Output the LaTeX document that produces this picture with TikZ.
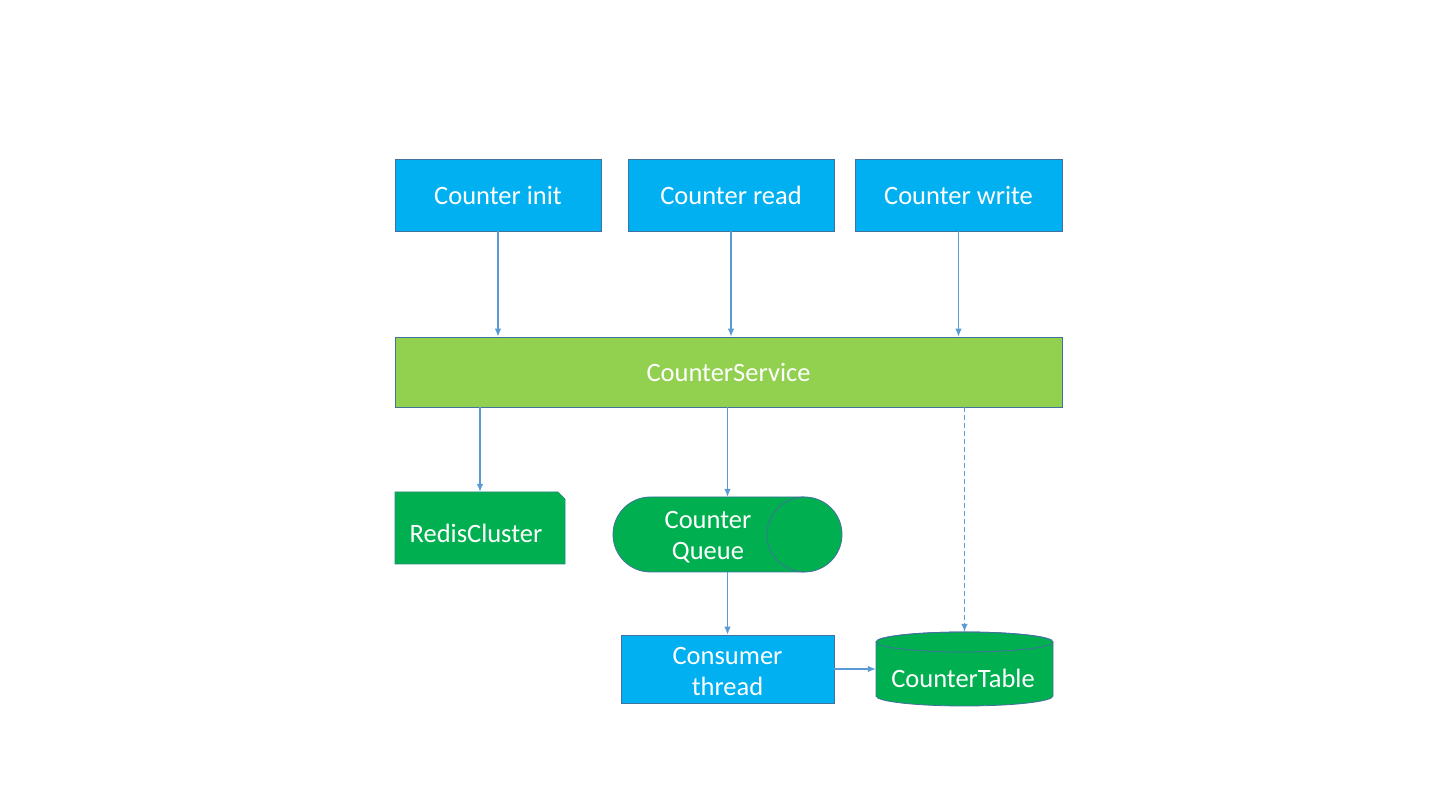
\documentclass[tikz,border=0pt]{standalone}
\usepackage{fontspec}
\setmainfont{Carlito}
\usetikzlibrary{arrows.meta}
\definecolor{boxblue}{HTML}{00B0F0}
\definecolor{svcgreen}{HTML}{92D050}
\definecolor{darkgreen}{HTML}{00B050}
\definecolor{edge}{HTML}{41719C}
\definecolor{arrowc}{HTML}{5B9BD5}
\tikzset{
  lbl/.style={text=white, font=\fontsize{26.5}{31}\selectfont, align=center, inner sep=0pt},
  bluebox/.style={lbl, rectangle, fill=boxblue, draw=edge, line width=0.8pt, minimum width=206pt, minimum height=72pt},
  ghost/.style={inner sep=0pt, draw=none},
  conn/.style={draw=arrowc, line width=1.1pt, -{Latex[length=8pt,width=6.5pt]}},
}
\begin{document}
\begin{tikzpicture}[x=1pt,y=1pt]
\useasboundingbox (0,0) rectangle (1440,810);
% top row
\node[bluebox] (init) at (498,615) {Counter init};
\node[bluebox] (read) at (731,615) {Counter read};
\node[bluebox, minimum width=207pt] (write) at (958.5,615) {Counter write};
% service
\node[lbl, rectangle, fill=svcgreen, draw=edge, line width=0.8pt, minimum width=667pt, minimum height=70pt] (service) at (728.5,438) {CounterService};
% RedisCluster (snipped corner)
\fill[darkgreen] (395,318) -- (558,318) -- (565,311) -- (565,246) -- (395,246) -- cycle;
\draw[edge!60!darkgreen, line width=0.6pt] (395,318) -- (558,318) -- (565,311) -- (565,246) -- (395,246) -- cycle;
\node[ghost, minimum width=170pt, minimum height=72pt] (redis) at (480,282) {};
\node[lbl] (redistext) at (476,277) {RedisCluster};
% Counter Queue (stadium)
\filldraw[fill=darkgreen, draw=edge, line width=0.8pt] (650.5,313) -- (804.5,313) arc[start angle=90, end angle=-90, radius=37.5] -- (650.5,238) arc[start angle=270, end angle=90, radius=37.5] -- cycle;
\draw[edge, line width=0.8pt] (804.5,313) arc[start angle=90, end angle=270, radius=37.5];
\node[ghost, minimum width=229pt, minimum height=75pt] (queue) at (727.5,275.5) {};
\node[lbl] (queuetext) at (708,272.5) {Counter\\Queue};
% Consumer thread
\node[ghost, rectangle, fill=boxblue, draw=edge, line width=0.8pt, minimum width=213pt, minimum height=68pt] (consumer) at (727.5,141) {};
\node[lbl] (consumertext) at (727.5,138) {Consumer\\thread};
% CounterTable cylinder
\filldraw[fill=darkgreen, draw=edge, line width=0.8pt] (876,168) -- (876,114) arc[start angle=180, end angle=360, x radius=88.5, y radius=10] -- (1053,168) arc[start angle=0, end angle=180, x radius=88.5, y radius=10] -- cycle;
\draw[edge, line width=0.8pt] (964.5,168) ellipse[x radius=88.5, y radius=10];
\node[ghost, minimum width=177pt, minimum height=74pt] (table) at (964.5,141) {};
\node[lbl] (tabletext) at (963,132) {CounterTable};
% connectors
\draw[conn] (init.south) -- (init.south |- service.north);
\draw[conn] (read.south) -- (read.south |- service.north);
\draw[conn] (write.south) -- (write.south |- service.north);
\draw[conn] (service.south -| redis.north) -- (redis.north);
\draw[conn] (service.south -| queue.north) -- (queue.north);
\draw[conn, dash pattern=on 5pt off 3pt] (service.south -| table.north) -- (table.north);
\draw[conn] (queue.south) -- (consumer.north);
\draw[conn] (consumer.east) -- (table.west);
\end{tikzpicture}
\end{document}
